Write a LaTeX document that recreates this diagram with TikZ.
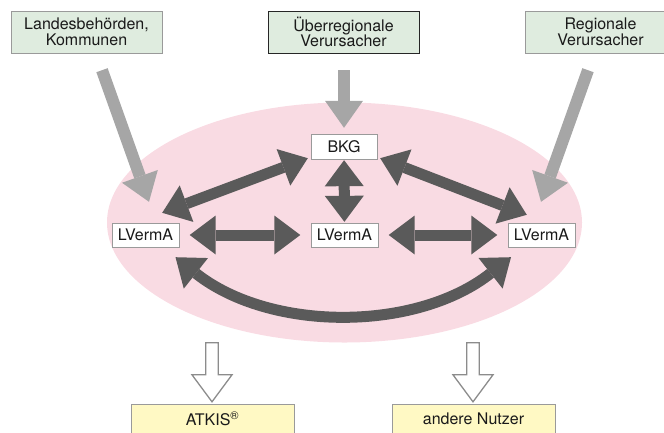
\documentclass[tikz,border=0pt]{standalone}
\usepackage{fontspec}
\setmainfont{TeX Gyre Heros}
\usetikzlibrary{arrows.meta}
\usetikzlibrary{calc}
\usetikzlibrary{shapes.geometric}
\definecolor{coreRose}{HTML}{F9DBE3}
\definecolor{srcGreen}{HTML}{DFECDF}
\definecolor{useYellow}{HTML}{FFF9C4}
\definecolor{feedGray}{HTML}{A6A6A6}
\definecolor{linkGray}{HTML}{5A5A5A}
\definecolor{frameGray}{HTML}{9A9A9A}
\definecolor{hollowGray}{HTML}{8C8C8C}
\definecolor{textGray}{HTML}{1A1A1A}

\begin{document}
\begin{tikzpicture}[x=1pt,y=-1pt,
	every node/.style={font=\fontsize{16}{15.5}\selectfont,text=textGray},
	source/.style={draw=frameGray,fill=srcGreen,minimum width=151pt,minimum height=42pt,inner sep=0pt,align=center},
	office/.style={draw=frameGray,fill=white,minimum width=67pt,minimum height=24pt,inner sep=0pt},
	user/.style={draw=frameGray,fill=useYellow,minimum width=163pt,minimum height=30pt,inner sep=0pt},
	feed/.style={draw=feedGray,line width=12pt,-{Triangle[width=38pt,length=27pt,line width=0pt]}},
	link/.style={draw=linkGray,line width=11pt,{Triangle[width=39pt,length=26pt,line width=0pt]}-{Triangle[width=39pt,length=26pt,line width=0pt]}},
	hollow/.style={draw=hollowGray,line width=1.3pt,fill=white}]
	\useasboundingbox (0,0) rectangle (664,432);

	% pink area
	\node[ellipse,fill=coreRose,minimum width=475pt,minimum height=240pt,inner sep=0pt] (core) at (344.5,222.5) {};

	% sources
	\node[source] (source0) at (86.5,32) {Landesbehörden,\\Kommunen};
	\node[source,draw=black!85] (source1) at (343.5,32) {Überregionale\\Verursacher};
	\node[source] (source2) at (600.5,32) {Regionale\\Verursacher};

	% offices
	\node[office,minimum width=66pt,minimum height=25pt] (bkg) at (344,146.5) {BKG};
	\foreach \i/\x in {0/145.5,1/344.5,2/541.5} \node[office] (lverma\i) at (\x,235) {LVermA};

	% users
	\node[user] (atkis) at (212.5,419) {ATKIS\textsuperscript{\textregistered}};
	\node[user] (others) at (473.5,419) {andere Nutzer};

	% connectors sources -> offices
	\draw[feed] ($(source0.south)+(15.5,17)$) -- ($(lverma0.north)+(3.5,-21)$);
	\draw[feed] ($(source1.south)+(0.5,17)$) -- ($(bkg.north)+(0,-6)$);
	\draw[feed] ($(source2.south)+(-12.5,17)$) -- ($(lverma2.north)+(-0.5,-21)$);

	% connectors between offices
	\draw[link] ($(lverma0.north east)+(-17,-10)$) -- ($(bkg.south west)+(-3,-1)$);
	\draw[link] ($(bkg.south east)+(3,-1)$) -- ($(lverma2.north west)+(19,-8)$);
	\draw[link,shorten <=1pt,shorten >=1pt] (bkg) -- (lverma1);
	\foreach \i/\j in {0/1,1/2} \draw[link,shorten <=10.5pt,shorten >=10.5pt] (lverma\i) -- (lverma\j);
	\draw[link] ($(lverma0.south)+(30,10)$) .. controls (270,332) and (416,332) .. ($(lverma2.south)+(-30.5,10)$);

	% connectors core -> users
	\foreach \n in {atkis,others}
		\draw[hollow] ($(\n.north)+(-0.5,-2)$) -- ++(-20,-27) -- ++(13.7,0) -- ++(0,-32) -- ++(12.6,0) -- ++(0,32) -- ++(13.7,0) -- cycle;
\end{tikzpicture}
\end{document}
